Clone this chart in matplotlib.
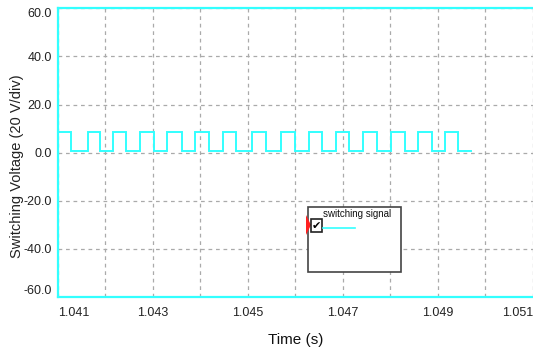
import numpy as np
import matplotlib
matplotlib.use("Agg")
import matplotlib.pyplot as plt
from matplotlib.patches import Rectangle, Polygon

# ---- data ----
rise_times = [1.04100, 1.04164, 1.04217, 1.04273, 1.04330, 1.04388, 1.04447, 1.04509,
              1.04569, 1.04628, 1.04686, 1.04743, 1.04802, 1.04858, 1.04914]
fall_times = [1.04129, 1.04189, 1.04243, 1.04303, 1.04361, 1.04418, 1.04476, 1.04539,
              1.04599, 1.04656, 1.04713, 1.04771, 1.04830, 1.04887, 1.04942]
end_time = 1.04970
v_high = 8.7
v_low = 0.5
x_ticks = [1.041, 1.042, 1.043, 1.044, 1.045, 1.046, 1.047, 1.048, 1.049, 1.050, 1.051]
x_labels = ["1.041", "", "1.043", "", "1.045", "", "1.047", "", "1.049", "", "1.051"]
y_ticks = [-60, -40, -20, 0, 20, 40, 60]
y_labels = ["-60.0", "-40.0", "-20.0", "0.0", "20.0", "40.0", "60.0"]
legend_label = "switching signal"

# build step waveform from the edges
t, v = [], []
for r, f in zip(rise_times, fall_times):
    t += [r, r, f, f]
    v += [v_low, v_high, v_high, v_low]
t.append(end_time)
v.append(v_low)
t = np.array(t[1:]); v = np.array(v[1:])

W, H = 533, 350
def fx(x): return x / W
def fy(y): return 1 - y / H

fig = plt.figure(figsize=(W / 100, H / 100), dpi=100)
ax = fig.add_axes([57.7 / W, 1 - 297 / H, (533 - 57.7) / W, (297 - 8.3) / H])

cyan = "#33FFFF"
ax.plot(t, v, color=cyan, lw=1.4, solid_joinstyle="miter")
ax.set_xlim(1.041, 1.051)
ax.set_ylim(-60, 60)

for s in ["left", "top", "bottom"]:
    ax.spines[s].set_color(cyan)
    ax.spines[s].set_linewidth(1.6)
ax.spines["right"].set_visible(False)

ax.set_xticks(x_ticks)
ax.set_xticklabels(x_labels)
ax.set_yticks(y_ticks)
ax.set_yticklabels(y_labels)
ax.tick_params(length=0, labelsize=9, colors="#222222")
ax.tick_params(axis="y", pad=4)
ax.tick_params(axis="x", pad=7)
tick_font = "Liberation Sans"
for lab in ax.get_xticklabels() + ax.get_yticklabels():
    lab.set_family(tick_font)
xl = ax.get_xticklabels()
xl[0].set_horizontalalignment("left")
xl[-1].set_horizontalalignment("right")
yl = ax.get_yticklabels()
yl[0].set_verticalalignment("bottom")
yl[-1].set_verticalalignment("top")

ax.grid(True, color="#AAAAAA", linestyle=(0, (3, 3)), linewidth=0.9)
ax.set_axisbelow(True)

ax.set_xlabel("Time (s)", fontsize=11, family=tick_font, color="#111111")
ax.xaxis.set_label_coords(fx(296), fy(340), transform=fig.transFigure)
ax.xaxis.label.set_verticalalignment("center")
ax.set_ylabel("Switching Voltage (20 V/div)", fontsize=10.5, family="Liberation Sans", color="#222222")
ax.yaxis.set_label_coords(fx(17), fy(166), transform=fig.transFigure)
ax.yaxis.label.set_verticalalignment("center")

# legend widget
box = Rectangle((fx(308), fy(272)), fx(401) - fx(308), fy(207) - fy(272), transform=fig.transFigure,
                facecolor="white", edgecolor="#444444", lw=1.2, zorder=5)
fig.patches.append(box)
tri = Polygon([[fx(306), fy(215)], [fx(311), fy(225)], [fx(306), fy(235)]], closed=True,
              transform=fig.transFigure, facecolor="#FF2020", edgecolor="none", zorder=6)
fig.patches.append(tri)
cb = Rectangle((fx(311), fy(232)), fx(322) - fx(311), fy(219) - fy(232), transform=fig.transFigure,
               facecolor="white", edgecolor="#222222", lw=1.2, zorder=6)
fig.patches.append(cb)
fig.text(fx(316.5), fy(225.5), "\u2714", ha="center", va="center", fontsize=8,
         family="DejaVu Sans", color="black", zorder=7)
fig.text(fx(323), fy(214), legend_label, ha="left", va="center", fontsize=7,
         family="Liberation Sans", color="#111111", zorder=7)
fig.lines.append(plt.Line2D([fx(323), fx(355)], [fy(228), fy(228)], transform=fig.transFigure,
                            color=cyan, lw=1.2, zorder=7))

fig.savefig("out.png", dpi=100)
